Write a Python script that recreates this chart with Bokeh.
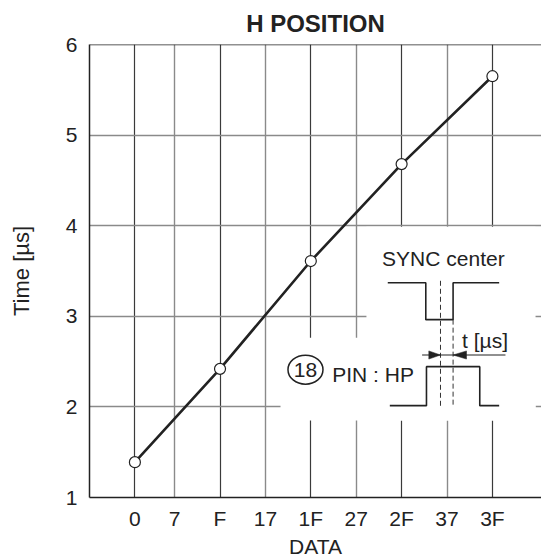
from bokeh.plotting import figure
from bokeh.models import FixedTicker, Grid, Span, Range1d
from bokeh.core.properties import value
from bokeh.embed import file_html
from bokeh.resources import INLINE

# ---- data ----
x_ticks = [0, 7, 15, 23, 31, 39, 47, 55, 63]
x_labels = ["0", "7", "F", "17", "1F", "27", "2F", "37", "3F"]
data_x = [0, 15, 31, 47, 63]
time_us = [1.39, 2.42, 3.61, 4.68, 5.65]
y_ticks = [1, 2, 3, 4, 5, 6]

FONT = "Liberation Sans"
INK = "#222222"

p = figure(width=541, height=560, output_backend="svg", toolbar_location=None,
           x_range=Range1d(-8, 71.65), y_range=Range1d(1, 6),
           min_border_left=89, min_border_right=0, min_border_top=44, min_border_bottom=63,
           title="H POSITION")
p.title.text_font = FONT
p.title.text_font_size = "24px"
p.title.text_font_style = "bold"
p.title.text_color = INK
p.title.align = "center"
p.title.standoff = 15
p.outline_line_color = None
p.background_fill_color = "white"
p.border_fill_color = "white"

# grids
p.xgrid.visible = False
p.ygrid.visible = False
dark_grid = Grid(dimension=0, ticker=FixedTicker(ticks=data_x),
                 grid_line_color="#3a3a3a", grid_line_width=1.2)
light_grid = Grid(dimension=0, ticker=FixedTicker(ticks=[t for t in x_ticks if t not in data_x]),
                  grid_line_color="#8a8a8a", grid_line_width=1.4)
h_grid = Grid(dimension=1, ticker=FixedTicker(ticks=y_ticks[1:-1]),
              grid_line_color="#8a8a8a", grid_line_width=1.4)
for g in (dark_grid, light_grid, h_grid):
    p.add_layout(g)

p.add_layout(Span(location=6, dimension="width", line_color=INK, line_width=1.5))

# axes
p.xaxis.ticker = FixedTicker(ticks=x_ticks)
p.xaxis.major_label_overrides = dict(zip(x_ticks, x_labels))
p.yaxis.ticker = FixedTicker(ticks=y_ticks)
for ax in (p.xaxis[0], p.yaxis[0]):
    ax.major_tick_in = 0
    ax.major_tick_out = 0
    ax.minor_tick_in = 0
    ax.minor_tick_out = 0
    ax.axis_line_color = INK
    ax.axis_line_width = 1.5
    ax.major_label_text_font = FONT
    ax.major_label_text_font_size = "21px"
    ax.major_label_text_color = INK
    ax.axis_label_text_font = FONT
    ax.axis_label_text_font_size = "21px"
    ax.axis_label_text_font_style = "normal"
    ax.axis_label_text_color = INK
    ax.major_label_standoff = 12
p.xaxis.major_label_standoff = 9
p.xaxis.axis_label = "DATA"
p.xaxis.axis_label_standoff = 2
p.yaxis.axis_label = "Time [µs]"
p.yaxis.axis_label_text_font_size = "22px"
p.yaxis.axis_label_standoff = 29

# white mask behind the inset diagram
p.quad(left=[40.8, 25.66], right=[70.6, 70.6], bottom=[1.85, 1.85], top=[3.988, 2.764],
       fill_color="white", line_color=None)

# curve and points
p.line(data_x, time_us, line_color=INK, line_width=2.6)
p.scatter(data_x, time_us, size=11, marker="circle", fill_color="white",
          line_color=INK, line_width=1.2)

# inset: SYNC waveform
p.line([44.56, 51.26, 51.26, 56.07, 56.07, 64.19], [3.37, 3.37, 2.963, 2.963, 3.37, 3.37],
       line_color=INK, line_width=1.6)
# HP waveform
p.line([44.92, 51.38, 51.38, 60.77, 60.77, 64.19], [2.014, 2.014, 2.444, 2.444, 2.014, 2.014],
       line_color=INK, line_width=1.6)
# dashed centre lines
p.segment(x0=[53.85, 56.07], y0=[3.392, 2.963], x1=[53.85, 56.07], y1=[2.003, 2.003],
          line_color="#333333", line_width=1, line_dash="5 3")
# arrow line and heads
p.line([50.61, 65.3], [2.573, 2.573], line_color=INK, line_width=1.2)
hh = 0.045
p.patches(xs=[[51.79, 51.79, 53.85], [58.43, 58.43, 56.07]],
          ys=[[2.573 + hh, 2.573 - hh, 2.573], [2.573 + hh, 2.573 - hh, 2.573]],
          fill_color=INK, line_color=INK, line_width=0.5)

# circled pin number
p.ellipse(x=[30.06], y=[2.411], width=35, height=29, width_units="screen", height_units="screen",
          fill_color="white", line_color=INK, line_width=1.5)

txt = dict(text_font=value(FONT), text_font_size="21px", text_color=INK, text_baseline="middle")
p.text(x=[30.06], y=[2.411], text=["18"], text_align="center", **txt)
p.text(x=[43.56], y=[3.635], text=["SYNC center"], text_align="left", **txt)
p.text(x=[57.66], y=[2.731], text=["t [µs]"], text_align="left", **txt)
p.text(x=[34.77], y=[2.356], text=["PIN : HP"], text_align="left", **txt)

open("out.html", "w").write(file_html(p, INLINE))
